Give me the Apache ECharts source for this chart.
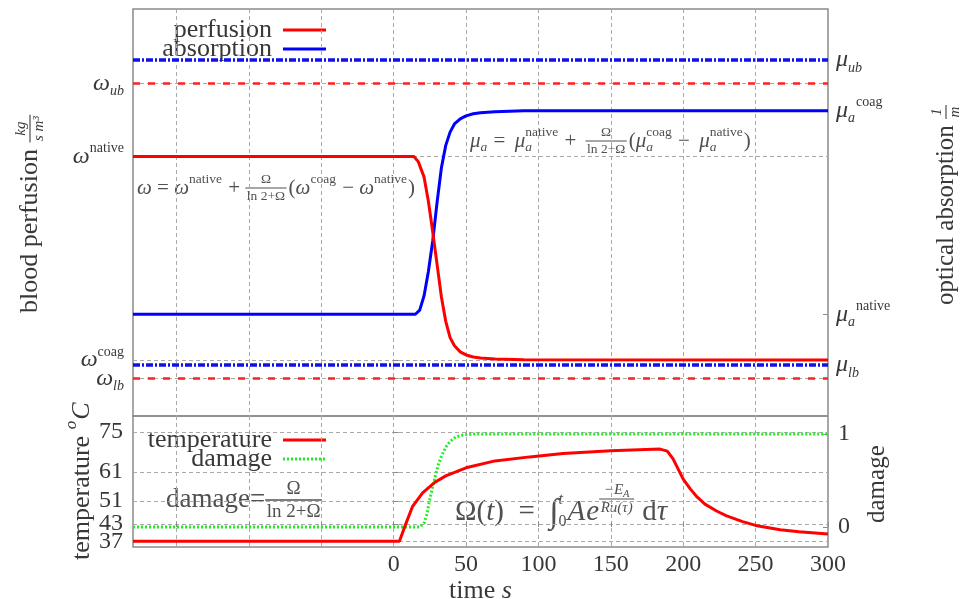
<!DOCTYPE html>
<html>
<head>
<meta charset="utf-8">
<script src="https://cdn.jsdelivr.net/npm/echarts@6/dist/echarts.min.js"></script>
<style>
  html, body { margin: 0; padding: 0; background: #fff; }
  #chart { width: 965px; height: 599px; }
</style>
</head>
<body>
<div id="chart"></div>
<script>
// ---- data ---------------------------------------------------------------
// time axis, seconds
const timeTicks = [-150, -100, -50, 0, 50, 100, 150, 200, 250, 300];
const timeLabels = [0, 50, 100, 150, 200, 250, 300];

// blood perfusion, scaled so that omega_native = 1 and omega_coag = 0
const perfusionTime  = [-180, 14, 17, 21, 24, 27, 30, 33, 36, 39, 42, 46, 50, 55, 60, 70, 90, 300];
const perfusionValue = [1, 1, 0.975, 0.9, 0.78, 0.63, 0.47, 0.31, 0.19, 0.11, 0.07, 0.04, 0.025, 0.015, 0.01, 0.005, 0.0015, 0];

// optical absorption, scaled so that mu_native = 1 and mu_coag = 2
const absorptionTime  = [-180, 15, 18, 21, 24, 27, 30, 33, 36, 39, 42, 46, 50, 55, 60, 70, 90, 300];
const absorptionValue = [1, 1, 1.02, 1.09, 1.21, 1.36, 1.55, 1.72, 1.83, 1.895, 1.935, 1.96, 1.975, 1.985, 1.99, 1.995, 2, 2];

// tissue temperature, degC
const temperatureTime  = [-180, 4, 8, 13, 20, 28, 36, 50, 70, 94, 117, 150, 184, 189, 193, 200, 205, 209, 215, 223, 230, 241, 250, 267, 280, 300];
const temperatureValue = [37, 37, 42.5, 49.0, 53.8, 57.3, 59.7, 62.5, 64.9, 66.3, 67.5, 68.4, 69.0, 68.3, 65.6, 58.6, 55.1, 52.7, 49.9, 47.5, 45.8, 43.8, 42.5, 41.0, 40.3, 39.5];

// damage = Omega / (ln 2 + Omega)
const damageTime  = [-180, 18, 21, 23, 25, 28, 31, 33, 36, 39, 43, 48, 55, 300];
const damageValue = [0, 0, 0.04, 0.14, 0.30, 0.50, 0.68, 0.76, 0.86, 0.92, 0.97, 0.99, 1, 1];

// characteristic levels and their tick names
const perfusionTicks  = [-0.09, 0, 1, 1.36];
const perfusionNames  = ['{m|ω}{sub|lb}', '{m|ω}{sup|coag}', '{m|ω}{sup|native}', '{m|ω}{sub|ub}'];
const perfusionBounds = [-0.09, 1.36];

const absorptionTicks  = [0.75, 1, 2, 2.25];
const absorptionNames  = ['{m|μ}{sub|lb}', '{m|μ}{suba|a}{sup|native}', '{m|μ}{suba|a}{sup|coag}', '{m|μ}{sub|ub}'];
const absorptionBounds = [0.75, 2.25];

const temperatureTicks = [37, 43, 51, 61, 75];
const damageTicks = [0, 1];

// ---- styling helpers ------------------------------------------------------
const SERIF = '"Liberation Serif", "DejaVu Serif", serif';
const INK = '#383838';
const FORMULA = '#505050';
const FRAME = '#8a8a8a';

const zip = (xs, ys) => xs.map((x, i) => [x, ys[i]]);
const nearest = (list, v) => {
  let best = 0;
  list.forEach((t, i) => { if (Math.abs(t - v) < Math.abs(list[best] - v)) best = i; });
  return best;
};
const perfusionLabel = v => perfusionNames[nearest(perfusionTicks, v)];
const absorptionLabel = v => absorptionNames[nearest(absorptionTicks, v)];

const gridLine = { show: true, lineStyle: { color: '#a9a9a9', width: 1, type: [4, 3] } };
const innerTick = (values) => ({ show: true, inside: true, length: 5, customValues: values, lineStyle: { color: FRAME, width: 1 } });
const hidden = { axisLine: { show: false }, axisTick: { show: false }, splitLine: { show: false } };

const richTicks = {
  m:    { fontFamily: SERIF, fontSize: 24, fontStyle: 'italic', color: INK, lineHeight: 30 },
  sup:  { fontFamily: SERIF, fontSize: 14, color: INK, verticalAlign: 'top' },
  sub:  { fontFamily: SERIF, fontSize: 14, fontStyle: 'italic', color: INK, verticalAlign: 'bottom' },
  suba: { fontFamily: SERIF, fontSize: 14, fontStyle: 'italic', color: INK, verticalAlign: 'bottom', padding: [0, 1, 0, 0] }
};
const plainLabel = { fontFamily: SERIF, fontSize: 24, color: INK, hideOverlap: false };

// ---- typeset helpers for formulas and titles -------------------------------
const measureCtx = document.createElement('canvas').getContext('2d');
const fontOf = (size, italic) => (italic ? 'italic ' : '') + size + 'px ' + SERIF;
const textWidth = (t, font) => { measureCtx.font = font; return measureCtx.measureText(t).width; };
const txt = (t, x, y, font, color, align) => ({
  type: 'text', silent: true,
  style: { text: t, x: x, y: y, font: font, fill: color, align: align || 'left', verticalAlign: 'middle' }
});

// lays out a row of pieces along a math axis at local y = 0
function mathRow(items, color) {
  const els = [];
  let x = 0;
  items.forEach(it => {
    const dy = it.dy || 0;
    if (it.frac) {
      const f = fontOf(it.s, it.i);
      const fSub = fontOf(it.s * 0.7, it.i);
      const wNum = textWidth(it.frac[0], f) + (it.numSub ? textWidth(it.numSub, fSub) : 0);
      const wDen = textWidth(it.frac[1], f);
      const w = Math.max(wNum, wDen) + 3;
      const nx = x + (w - wNum) / 2, ny = dy - it.s * 0.6;
      els.push(txt(it.frac[0], nx, ny, f, color));
      if (it.numSub) els.push(txt(it.numSub, nx + textWidth(it.frac[0], f), ny + it.s * 0.3, fSub, color));
      els.push({ type: 'line', silent: true, shape: { x1: x, y1: dy, x2: x + w, y2: dy },
                 style: { stroke: color, lineWidth: Math.max(1, it.s / 14) } });
      els.push(txt(it.frac[1], x + w / 2, dy + it.s * 0.62, f, color, 'center'));
      x += w + (it.gap == null ? 2 : it.gap);
    } else if (it.sup != null || it.sub != null) {
      let w = 0;
      if (it.sup != null) {
        const f = fontOf(it.s, it.supI);
        els.push(txt(it.sup, x, dy - it.s * (it.supUp || 0.6), f, color));
        w = Math.max(w, textWidth(it.sup, f));
      }
      if (it.sub != null) {
        const f = fontOf(it.s, it.subI);
        els.push(txt(it.sub, x, dy + it.s * (it.subDown || 0.45), f, color));
        w = Math.max(w, textWidth(it.sub, f));
      }
      x += w + 1;
    } else {
      const f = fontOf(it.s, it.i);
      els.push(txt(it.t, x, dy, f, color));
      x += textWidth(it.t, f) + (it.gap || 0);
    }
  });
  return { els, width: x };
}

function place(items, x, y, color, opts) {
  opts = opts || {};
  const row = mathRow(items, color);
  const shift = opts.anchor === 'center' ? -row.width / 2 : (opts.anchor === 'end' ? -row.width : 0);
  return {
    type: 'group', x: x, y: y, rotation: opts.rotation || 0, silent: true,
    children: [{ type: 'group', x: shift, y: 0, children: row.els }]
  };
}

// ---- annotations -----------------------------------------------------------
const S = 21, s = 13.5;
const perfusionFormula = [
  { t: 'ω', i: 1, s: S }, { t: ' = ', s: S }, { t: 'ω', i: 1, s: S }, { sup: 'native', s: s },
  { t: ' + ', s: S }, { frac: ['Ω', 'ln 2+Ω'], s: s }, { t: '(', s: S }, { t: 'ω', i: 1, s: S },
  { sup: 'coag', s: s }, { t: ' − ', s: S }, { t: 'ω', i: 1, s: S }, { sup: 'native', s: s }, { t: ')', s: S }
];
const absorptionFormula = [
  { t: 'μ', i: 1, s: S }, { sub: 'a', subI: 1, s: s }, { t: ' = ', s: S, gap: 4 }, { t: 'μ', i: 1, s: S },
  { sup: 'native', sub: 'a', subI: 1, s: s }, { t: ' + ', s: S, gap: 4 }, { frac: ['Ω', 'ln 2+Ω'], s: s },
  { t: '(', s: S }, { t: 'μ', i: 1, s: S }, { sup: 'coag', sub: 'a', subI: 1, s: s }, { t: ' − ', s: S, gap: 4 },
  { t: 'μ', i: 1, s: S }, { sup: 'native', sub: 'a', subI: 1, s: s }, { t: ')', s: S }
];
const damageFormula = [
  { t: 'damage=', s: 27 }, { frac: ['Ω', 'ln 2+Ω'], s: 19 }
];
const omegaFormula = [
  { t: 'Ω(', s: 29 }, { t: 't', i: 1, s: 29 }, { t: ')  =  ', s: 29 }, { t: '∫', s: 34, dy: 1 },
  { sup: 't', supI: 1, sub: '0', s: 16, supUp: 0.75, subDown: 0.6 }, { t: 'A', i: 1, s: 29, gap: 1 },
  { t: 'e', i: 1, s: 29 },
  { frac: ['−E', 'Ru(τ)'], numSub: 'A', i: 1, s: 15, dy: -13, gap: 8 }, { t: 'd', s: 29 }, { t: 'τ', i: 1, s: 29 }
];

const leftTitle  = [{ t: 'blood perfusion ', s: 26 }, { frac: ['kg', 's m³'], i: 1, s: 15 }];
const rightTitle = [{ t: 'optical absorption ', s: 25 }, { frac: ['1', 'm'], i: 1, s: 15 }];
const tempTitle  = [{ t: 'temperature ', s: 26 }, { sup: 'o', supI: 1, s: 17 }, { t: 'C', i: 1, s: 26 }];
const damageTitle = [{ t: 'damage', s: 25 }];

const legendText = (t, y) => ({ type: 'text', silent: true,
  style: { text: t, x: 272, y: y, font: fontOf(26), fill: INK, align: 'right', verticalAlign: 'middle' } });
const legendKey = (y, color, dash) => ({ type: 'line', silent: true,
  shape: { x1: 283, y1: y, x2: 326, y2: y }, style: { stroke: color, lineWidth: 3, lineDash: dash || null } });

// ---- chart -----------------------------------------------------------------
const chart = echarts.init(document.getElementById('chart'));
chart.setOption({
  animation: false,
  backgroundColor: '#fff',
  grid: [
    { left: 133, right: 137, top: 9, height: 407, show: true, borderColor: FRAME, borderWidth: 1.5,
      containLabel: false, outerBoundsMode: 'none' },
    { left: 133, right: 137, top: 416, height: 131, show: true, borderColor: FRAME, borderWidth: 1.5,
      containLabel: false, outerBoundsMode: 'none' }
  ],
  xAxis: [
    { gridIndex: 0, type: 'value', min: -180, max: 300,
      axisLine: { show: false }, axisLabel: { show: false },
      axisTick: { show: false, customValues: timeTicks }, splitLine: gridLine },
    { gridIndex: 1, type: 'value', min: -180, max: 300,
      axisLine: { show: false }, axisTick: innerTick(timeTicks),
      axisLabel: Object.assign({ customValues: timeLabels, margin: 6 }, plainLabel),
      splitLine: gridLine,
      name: '{a|time }{b|s}', nameLocation: 'middle', nameGap: 28,
      nameTextStyle: { rich: {
        a: { fontFamily: SERIF, fontSize: 26, color: INK },
        b: { fontFamily: SERIF, fontSize: 26, fontStyle: 'italic', color: INK } } } }
  ],
  yAxis: [
    // perfusion (left, top panel)
    { gridIndex: 0, type: 'value', min: -0.275, max: 1.725, axisLine: { show: false },
      axisTick: innerTick(perfusionTicks), splitLine: gridLine,
      axisLabel: { customValues: perfusionTicks.slice(1), margin: 9, rich: richTicks, hideOverlap: false,
        formatter: perfusionLabel } },
    // absorption (right, top panel)
    { gridIndex: 0, type: 'value', position: 'right', min: 0.5, max: 2.5, axisLine: { show: false },
      axisTick: innerTick(absorptionTicks), splitLine: { show: false },
      axisLabel: { customValues: absorptionTicks, margin: 8, rich: richTicks, hideOverlap: false,
        formatter: absorptionLabel } },
    // temperature (left, bottom panel)
    { gridIndex: 1, type: 'value', min: 35, max: 80.5, axisLine: { show: false },
      axisTick: innerTick(temperatureTicks), splitLine: gridLine,
      axisLabel: Object.assign({ customValues: [37, 51, 61, 75], margin: 10 }, plainLabel) },
    // damage (right, bottom panel)
    { gridIndex: 1, type: 'value', position: 'right', min: -0.215, max: 1.194, axisLine: { show: false },
      axisTick: innerTick(damageTicks), splitLine: { show: false },
      axisLabel: Object.assign({ customValues: damageTicks, margin: 10 }, plainLabel) },
    // labels that sit close to a neighbour get their own label-only axes
    Object.assign({ gridIndex: 0, type: 'value', position: 'left', min: -0.275, max: 1.725,
      axisLabel: { customValues: [perfusionTicks[0]], margin: 9, rich: richTicks, formatter: perfusionLabel } }, hidden),
    Object.assign({ gridIndex: 1, type: 'value', position: 'left', min: 35, max: 80.5,
      axisLabel: Object.assign({ customValues: [43], margin: 10 }, plainLabel) }, hidden)
  ],
  series: [
    { name: 'perfusion', type: 'line', xAxisIndex: 0, yAxisIndex: 0, data: zip(perfusionTime, perfusionValue),
      symbol: 'none', lineStyle: { color: '#ff0000', width: 3 }, z: 4,
      markLine: { silent: true, symbol: 'none', label: { show: false },
        lineStyle: { color: '#ff2020', width: 2.5, type: [7, 8] },
        data: perfusionBounds.map(v => ({ yAxis: v })) } },
    { name: 'absorption', type: 'line', xAxisIndex: 0, yAxisIndex: 1, data: zip(absorptionTime, absorptionValue),
      symbol: 'none', lineStyle: { color: '#0000ff', width: 3 }, z: 3,
      markLine: { silent: true, symbol: 'none', label: { show: false },
        lineStyle: { color: '#1010ee', width: 3.5, type: [7, 2, 2, 2] },
        data: absorptionBounds.map(v => ({ yAxis: v })) } },
    { name: 'temperature', type: 'line', xAxisIndex: 1, yAxisIndex: 2, data: zip(temperatureTime, temperatureValue),
      symbol: 'none', lineStyle: { color: '#ff0000', width: 3 }, z: 4 },
    { name: 'damage', type: 'line', xAxisIndex: 1, yAxisIndex: 3, data: zip(damageTime, damageValue),
      symbol: 'none', lineStyle: { color: '#22ee22', width: 3, type: [2, 2] }, z: 3 }
  ],
  graphic: [
    legendText('perfusion', 30), legendKey(30, '#ff0000'),
    legendText('absorption', 49), legendKey(49, '#0000ff'),
    legendText('temperature', 440), legendKey(440, '#ff0000'),
    legendText('damage', 459), legendKey(459, '#22ee22', [2, 2]),
    place(perfusionFormula, 137, 188, FORMULA),
    place(absorptionFormula, 470, 141, FORMULA),
    place(damageFormula, 166, 500, FORMULA),
    place(omegaFormula, 455, 512, FORMULA),
    place(leftTitle, 30, 313, INK, { rotation: Math.PI / 2 }),
    place(rightTitle, 946, 305, INK, { rotation: Math.PI / 2 }),
    place(tempTitle, 82, 560, INK, { rotation: Math.PI / 2 }),
    place(damageTitle, 877, 523, INK, { rotation: Math.PI / 2 })
  ]
});
</script>
</body>
</html>
